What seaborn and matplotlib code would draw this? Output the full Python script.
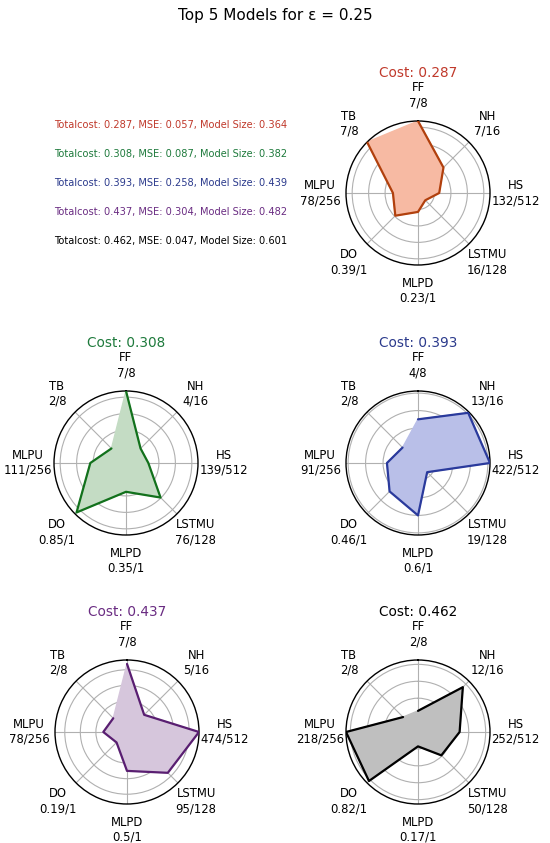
import numpy as np
import matplotlib
matplotlib.use("Agg")
import matplotlib.pyplot as plt
import seaborn as sns

# hyperparameter axes and their maximum values
PARAMS = ["FF", "NH", "HS", "LSTMU", "MLPD", "DO", "MLPU", "TB"]
MAX_VALS = [8, 16, 512, 128, 1, 1, 256, 8]

# values per model (same order as PARAMS)
MODEL_1 = [7, 7, 132, 16, 0.23, 0.39, 78, 7]
MODEL_2 = [7, 4, 139, 76, 0.35, 0.85, 111, 2]
MODEL_3 = [4, 13, 422, 19, 0.6, 0.46, 91, 2]
MODEL_4 = [7, 5, 474, 95, 0.5, 0.19, 78, 2]
MODEL_5 = [2, 12, 252, 50, 0.17, 0.82, 218, 2]

TOTAL_COST = [0.287, 0.308, 0.393, 0.437, 0.462]
MSE = [0.057, 0.087, 0.258, 0.304, 0.047]
MODEL_SIZE = [0.364, 0.382, 0.439, 0.482, 0.601]

LINE_COLORS = ["#b1400d", "#12711c", "#2a3a9c", "#591e71", "#000000"]
FILL_COLORS = ["#f7baa3", "#c4dcc4", "#b9bfe8", "#d6c6dc", "#bfbfbf"]
TEXT_COLORS = ["#c0392b", "#1e7a3c", "#2b3a8c", "#6a2c82", "#000000"]

EPSILON = 0.25


def label_for(name, value, vmax):
    return f"{name}\n{value:g}/{vmax}"


def draw_radar(ax, values, idx):
    norm = [v / m for v, m in zip(values, MAX_VALS)]
    n = len(PARAMS)
    theta = np.linspace(0, 2 * np.pi, n, endpoint=False)
    theta_c = np.append(theta, theta[0])
    r_c = np.append(norm, norm[0])

    ax.set_theta_offset(np.pi / 2)
    ax.set_theta_direction(-1)
    ax.fill(theta_c, r_c, color=FILL_COLORS[idx], alpha=1.0, zorder=1)
    sns.lineplot(x=theta_c, y=r_c, ax=ax, sort=False, color=LINE_COLORS[idx],
                 linewidth=1.6, zorder=3)

    rmax = max(norm)
    ax.set_ylim(0, rmax)
    ax.set_yticks([t for t in [0.2, 0.4, 0.6, 0.8] if t < rmax])
    ax.set_yticklabels([])
    ax.set_xticks(theta)
    ax.set_xticklabels([label_for(p, v, m) for p, v, m in zip(PARAMS, values, MAX_VALS)],
                       fontsize=8.4, color="black")
    ax.tick_params(axis="x", pad=8)
    ax.set_xlabel("")
    ax.set_ylabel("")
    ax.grid(True, color="#b0b0b0", linewidth=0.8)
    ax.spines["polar"].set_linewidth(1.0)
    ax.spines["polar"].set_color("black")
    ax.set_title(f"Cost: {TOTAL_COST[idx]:.3f}", color=TEXT_COLORS[idx], fontsize=9.8, pad=3)


def main():
    sns.set_style("white")
    plt.rcParams["font.family"] = ["DejaVu Sans"]
    plt.rcParams["text.color"] = "black"

    fig = plt.figure(figsize=(5.5, 8.43), dpi=100)
    fig.suptitle(f"Top 5 Models for \u03b5 = {EPSILON}", fontsize=11, y=0.99, color="black")

    models = [MODEL_1, MODEL_2, MODEL_3, MODEL_4, MODEL_5]
    # pixel centres of each radar (width 550, height 843)
    centres = [(418, 193), (126, 463), (418, 463), (127, 732), (418, 732)]
    size = 144
    for idx, (vals, (cx, cy)) in enumerate(zip(models, centres)):
        rect = [(cx - size / 2) / 550, 1 - (cy + size / 2) / 843, size / 550, size / 843]
        ax = fig.add_axes(rect, projection="polar")
        draw_radar(ax, vals, idx)

    # legend-like text block in the top left
    for idx in range(len(TOTAL_COST)):
        txt = f"Totalcost: {TOTAL_COST[idx]:.3f}, MSE: {MSE[idx]:.3f}, Model Size: {MODEL_SIZE[idx]:.3f}"
        y = 125 + idx * 29
        fig.text(54 / 550, 1 - y / 843, txt, color=TEXT_COLORS[idx], fontsize=7.1,
                 ha="left", va="center")

    fig.savefig("out.png", dpi=100)


if __name__ == "__main__":
    main()
